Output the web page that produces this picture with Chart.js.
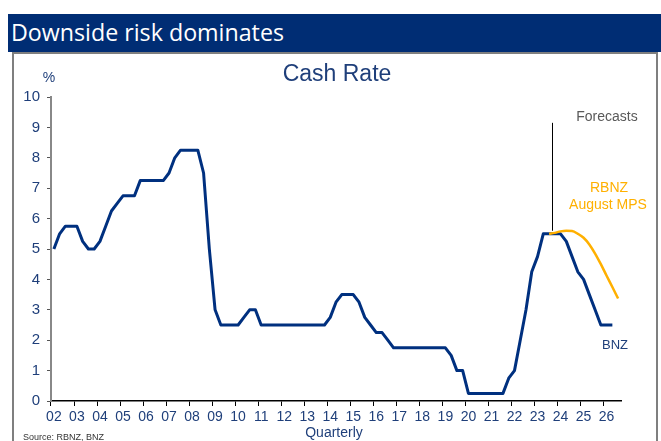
<!DOCTYPE html>
<html>
<head>
<meta charset="utf-8">
<script src="https://cdn.jsdelivr.net/npm/chart.js@4.4.0/dist/chart.umd.min.js"></script>
<style>
  body { margin: 0; background: #fff; width: 661px; height: 441px; overflow: hidden; position: relative; }
  #banner { position: absolute; left: 8px; top: 14px; width: 653px; height: 38px; background: #002d74; }
  #banner span { position: absolute; left: 3px; top: 1px; color: #fff; font-family: "Open Sans", sans-serif; font-size: 24px; white-space: nowrap; transform-origin: 0 0; display: inline-block; }
  #frame { position: absolute; left: 12px; top: 52px; width: 642px; height: 400px; border: 2px solid #7f7f7f; border-bottom: none; }
  #chart { position: absolute; left: 0; top: 0; }
</style>
</head>
<body>
<div id="banner"><span id="bannerText">Downside risk dominates</span></div>
<div id="frame"></div>
<canvas id="chart" width="661" height="441"></canvas>
<script>
// years shown on the axis, four quarters each (2002Q1 .. 2026Q3)
var years = ['02', '03', '04', '05', '06', '07', '08', '09', '10', '11', '12', '13', '14',
             '15', '16', '17', '18', '19', '20', '21', '22', '23', '24', '25', '26'];

// official cash rate, actual + BNZ forecast, quarterly from 2002Q1
var bnzRate = [
    5.0, 5.5, 5.75, 5.75,     // 02
    5.75, 5.25, 5.0, 5.0,     // 03
    5.25, 5.75, 6.25, 6.5,    // 04
    6.75, 6.75, 6.75, 7.25,   // 05
    7.25, 7.25, 7.25, 7.25,   // 06
    7.5, 8.0, 8.25, 8.25,     // 07
    8.25, 8.25, 7.5, 5.0,     // 08
    3.0, 2.5, 2.5, 2.5,       // 09
    2.5, 2.75, 3.0, 3.0,      // 10
    2.5, 2.5, 2.5, 2.5,       // 11
    2.5, 2.5, 2.5, 2.5,       // 12
    2.5, 2.5, 2.5, 2.5,       // 13
    2.75, 3.25, 3.5, 3.5,     // 14
    3.5, 3.25, 2.75, 2.5,     // 15
    2.25, 2.25, 2.0, 1.75,    // 16
    1.75, 1.75, 1.75, 1.75,   // 17
    1.75, 1.75, 1.75, 1.75,   // 18
    1.75, 1.5, 1.0, 1.0,      // 19
    0.25, 0.25, 0.25, 0.25,   // 20
    0.25, 0.25, 0.25, 0.75,   // 21
    1.0, 2.0, 3.0, 4.25,      // 22
    4.75, 5.5, 5.5, 5.5,      // 23
    5.5, 5.25, 4.75, 4.25,    // 24
    4.0, 3.5, 3.0, 2.5,       // 25
    2.5, 2.5                  // 26
];

// RBNZ August MPS track, 2023Q3 .. 2026Q3
var mpsStart = '23Q3';
var rbnzMps = [5.5, 5.53, 5.58, 5.6, 5.59, 5.5, 5.37, 5.15, 4.85, 4.5, 4.12, 3.75, 3.37];

var forecastFrom = '23Q4';

var navy = '#00307f';
var textNavy = '#1f3f7a';
var orange = '#ffb000';

var categories = [];
years.forEach(function (y) {
    for (var q = 1; q <= 4; q++) {
        if (y === '26' && q === 4) break;
        categories.push(y + 'Q' + q);
    }
});

var mpsData = categories.map(function () { return null; });
var startIdx = categories.indexOf(mpsStart);
rbnzMps.forEach(function (v, i) { mpsData[startIdx + i] = v; });

// squeeze the banner text like the original narrow font
var bt = document.getElementById('bannerText');
bt.style.transform = 'scaleX(' + (273 / bt.getBoundingClientRect().width) + ')';

var extras = {
    id: 'extras',
    afterDraw: function (chart) {
        var c = chart.ctx;
        var xs = chart.scales.x, ys = chart.scales.y;
        var fi = categories.indexOf(forecastFrom);
        var fx = Math.round((xs.getPixelForValue(fi - 1) + xs.getPixelForValue(fi)) / 2) + 0.5;
        c.save();
        c.strokeStyle = '#000';
        c.lineWidth = 1;
        c.beginPath();
        c.moveTo(fx, ys.getPixelForValue(9.15));
        c.lineTo(fx, ys.getPixelForValue(5.6));
        c.stroke();

        c.textAlign = 'center';
        c.textBaseline = 'middle';
        c.font = '23px "Liberation Sans", Arial, sans-serif';
        c.fillStyle = textNavy;
        c.fillText('Cash Rate', 337, 75);

        c.font = '14px "Liberation Sans", Arial, sans-serif';
        c.fillText('%', 49, 78);
        c.fillText('Quarterly', 334, 433);
        c.font = '13px "Liberation Sans", Arial, sans-serif';
        c.fillText('BNZ', 615, 345);

        c.font = '14px "Liberation Sans", Arial, sans-serif';
        c.fillStyle = '#595959';
        c.fillText('Forecasts', 607, 117);
        c.fillStyle = orange;
        c.fillText('RBNZ', 609, 188);
        c.fillText('August MPS', 608, 205);

        c.textAlign = 'left';
        c.font = '9px "Liberation Sans", Arial, sans-serif';
        c.fillStyle = '#333';
        c.fillText('Source: RBNZ, BNZ', 23, 438);
        c.restore();
    }
};

var ctx = document.getElementById('chart').getContext('2d');
var chart = new Chart(ctx, {
    type: 'line',
    data: {
        labels: categories,
        datasets: [{
            label: 'BNZ',
            data: bnzRate,
            borderColor: navy,
            borderWidth: 3,
            pointRadius: 0,
            tension: 0,
            borderJoinStyle: 'round',
            order: 1
        }, {
            label: 'RBNZ August MPS',
            data: mpsData,
            borderColor: orange,
            borderWidth: 2.5,
            pointRadius: 0,
            cubicInterpolationMode: 'monotone',
            order: 0
        }]
    },
    options: {
        responsive: false,
        animation: false,
        devicePixelRatio: 1,
        layout: { padding: { top: 97, right: 40, left: 0, bottom: 0 } },
        plugins: {
            legend: { display: false },
            title: { display: false },
            tooltip: { enabled: false }
        },
        scales: {
            x: {
                type: 'category',
                offset: true,
                grid: {
                    offset: true,
                    drawOnChartArea: false,
                    tickLength: 5,
                    color: function (c) { return c.index % 4 === 0 ? '#000' : 'rgba(0,0,0,0)'; },
                    tickColor: function (c) { return c.index % 4 === 0 ? '#000' : 'rgba(0,0,0,0)'; }
                },
                border: { color: '#000', width: 1.5 },
                ticks: {
                    autoSkip: false,
                    maxRotation: 0,
                    padding: 3,
                    color: textNavy,
                    font: { family: '"Liberation Sans", Arial, sans-serif', size: 14 },
                    callback: function (v, i) { return i % 4 === 0 ? categories[i].slice(0, 2) : ''; }
                },
                afterFit: function (s) { s.height = 40; }
            },
            y: {
                min: 0,
                max: 10,
                grid: { drawOnChartArea: false, tickLength: 4, tickColor: '#555' },
                border: { color: '#888', width: 2 },
                ticks: {
                    stepSize: 1,
                    padding: 7,
                    color: textNavy,
                    font: { family: '"Liberation Sans", Arial, sans-serif', size: 15 }
                },
                afterFit: function (s) { s.width = 51; }
            }
        }
    },
    plugins: [extras]
});
</script>
</body>
</html>
